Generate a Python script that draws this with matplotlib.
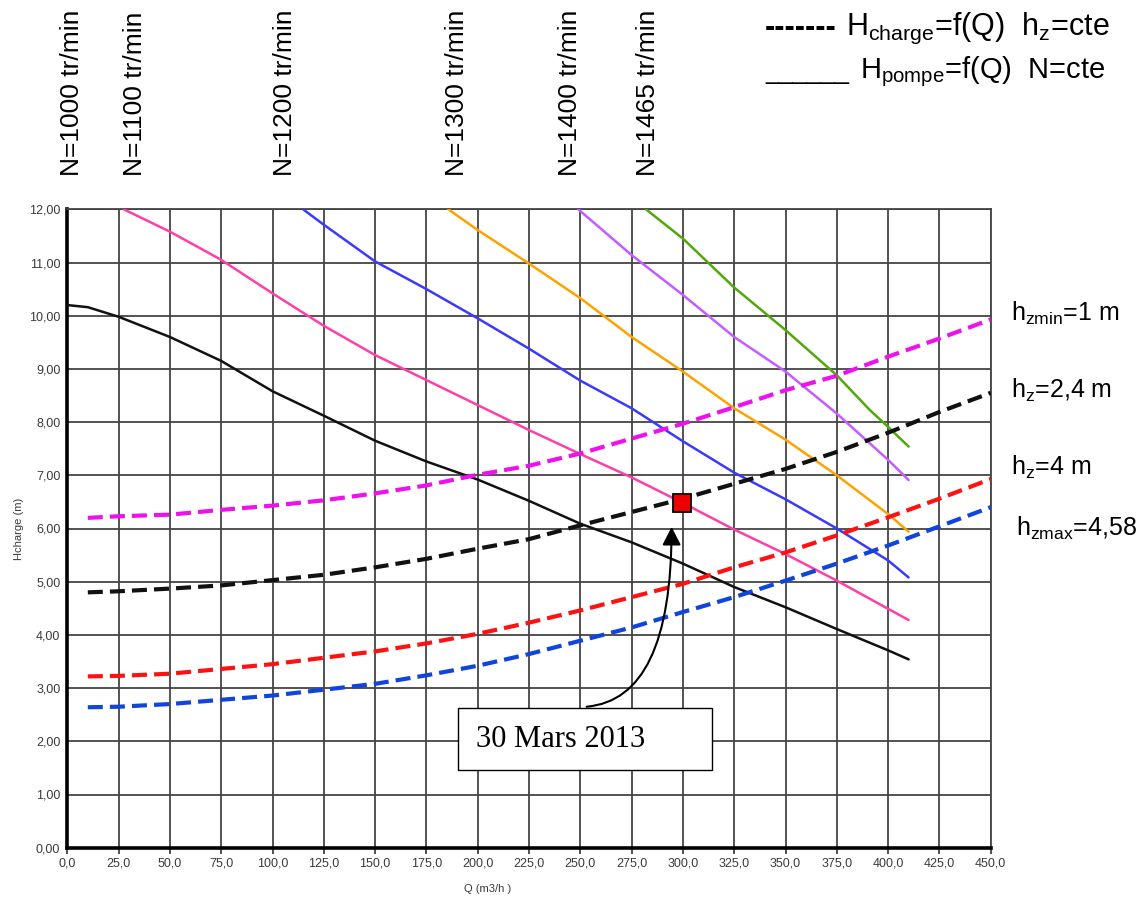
import numpy as np
import matplotlib
matplotlib.use("Agg")
import matplotlib.pyplot as plt
from matplotlib.patches import Rectangle

plt.rcParams['font.family'] = ['Liberation Sans', 'DejaVu Sans']

# pump curves H = f(Q) at constant speed N
pump_labels = ["N=1000 tr/min", "N=1100 tr/min", "N=1200 tr/min",
               "N=1300 tr/min", "N=1400 tr/min", "N=1465 tr/min"]
pump_colors = ["#111111", "#ff3fa8", "#3a3aff", "#ffa200", "#c45cff", "#52a80a"]

q_n1000 = [0, 10, 25, 50, 75, 100, 125, 150, 175, 200, 225, 250, 275, 300, 325, 350, 375, 400, 410]
h_n1000 = [10.20, 10.16, 9.98, 9.60, 9.15, 8.58, 8.12, 7.65, 7.26, 6.92, 6.52, 6.09, 5.74, 5.34, 4.90, 4.52, 4.11, 3.71, 3.54]

q_n1100 = [27.5, 50, 75, 100, 125, 150, 175, 200, 225, 250, 275, 300, 325, 350, 375, 400, 410]
h_n1100 = [12.0, 11.58, 11.05, 10.42, 9.81, 9.26, 8.79, 8.32, 7.85, 7.40, 6.96, 6.48, 5.98, 5.52, 5.02, 4.49, 4.28]

q_n1200 = [114.9, 125, 150, 175, 200, 225, 250, 275, 300, 325, 350, 375, 400, 410]
h_n1200 = [12.0, 11.71, 11.02, 10.50, 9.95, 9.38, 8.78, 8.26, 7.64, 7.05, 6.55, 6.00, 5.40, 5.08]

q_n1300 = [185.7, 200, 225, 250, 275, 300, 325, 350, 375, 400, 410]
h_n1300 = [12.0, 11.61, 10.98, 10.33, 9.60, 8.95, 8.26, 7.67, 7.00, 6.27, 5.94]

q_n1400 = [249, 275, 300, 325, 350, 375, 400, 410]
h_n1400 = [12.0, 11.14, 10.39, 9.60, 8.95, 8.16, 7.29, 6.91]

q_n1465 = [282, 300, 325, 350, 375, 391, 400, 410]
h_n1465 = [12.0, 11.45, 10.53, 9.73, 8.88, 8.23, 7.91, 7.54]

# system curves H = f(Q) at constant hz
q_sys = [10, 25, 50, 75, 100, 125, 150, 175, 200, 225, 250, 275, 300, 325, 350, 375, 400, 425, 450]
h_hzmin = [6.20, 6.23, 6.26, 6.35, 6.43, 6.53, 6.66, 6.81, 7.01, 7.18, 7.41, 7.69, 7.97, 8.28, 8.60, 8.87, 9.23, 9.57, 9.93]
h_hz24 = [4.80, 4.82, 4.87, 4.93, 5.03, 5.13, 5.27, 5.43, 5.62, 5.80, 6.06, 6.31, 6.56, 6.84, 7.12, 7.44, 7.80, 8.19, 8.55]
h_hz4 = [3.22, 3.23, 3.27, 3.36, 3.45, 3.57, 3.69, 3.84, 4.02, 4.23, 4.46, 4.71, 4.96, 5.27, 5.55, 5.87, 6.21, 6.56, 6.93]
h_hzmax = [2.64, 2.65, 2.70, 2.78, 2.86, 2.97, 3.08, 3.24, 3.42, 3.64, 3.89, 4.14, 4.43, 4.71, 5.02, 5.34, 5.68, 6.04, 6.40]
sys_colors = ["#ee11ee", "#111111", "#ff1111", "#1144dd"]
sys_labels = [r"h$_{\mathregular{zmin}}$=1 m", r"h$_{\mathregular{z}}$=2,4 m",
              r"h$_{\mathregular{z}}$=4 m", r"h$_{\mathregular{zmax}}$=4,58"]

# operating point
point_q, point_h = 299.6, 6.48
point_label = "30 Mars 2013"

x_ticks = np.arange(0, 451, 25)
y_ticks = np.arange(0, 13, 1)

W, H = 1144, 898
fig = plt.figure(figsize=(W / 100, H / 100), dpi=100)
ax = fig.add_axes([67.3 / W, 1 - 847.7 / H, 923.4 / W, 638.4 / H])

pumps = [(q_n1000, h_n1000), (q_n1100, h_n1100), (q_n1200, h_n1200),
         (q_n1300, h_n1300), (q_n1400, h_n1400), (q_n1465, h_n1465)]
for (q, h), c in zip(pumps, pump_colors):
    ax.plot(q, h, color=c, lw=1.8, zorder=3, solid_capstyle='round')

for h, c in zip([h_hzmin, h_hz24, h_hz4, h_hzmax], sys_colors):
    ax.plot(q_sys, h, color=c, lw=3, ls=(0, (3.6, 1.7)), zorder=3)

ax.set_xlim(0, 450)
ax.set_ylim(0, 12)
ax.set_xticks(x_ticks)
ax.set_yticks(y_ticks)
ax.set_xticklabels([f"{v:.1f}".replace('.', ',') for v in x_ticks])
ax.set_yticklabels([f"{v:.2f}".replace('.', ',') for v in y_ticks])
ax.tick_params(axis='x', length=4, width=1.2, color='#333333', labelsize=9,
               labelcolor='#3a3a3a', pad=3)
ax.tick_params(axis='y', length=0, labelsize=9, labelcolor='#3a3a3a', pad=5)
ax.grid(True, color='#444444', lw=1.3)
ax.set_axisbelow(True)
for s in ['left', 'bottom']:
    ax.spines[s].set_linewidth(2.6)
    ax.spines[s].set_color('black')
for s in ['top', 'right']:
    ax.spines[s].set_linewidth(1.3)
    ax.spines[s].set_color('#444444')

ax.set_xlabel("Q (m3/h )", fontsize=8, color='#3a3a3a')
ax.xaxis.set_label_coords(0.4556, -0.057)
ax.set_ylabel("Hcharge (m)", fontsize=8, color='#3a3a3a')
ax.yaxis.set_label_coords(-0.047, 0.50)

# annotation box and arrow
ax.add_patch(Rectangle((190.4, 1.46), 314.2 - 190.4, 2.63 - 1.46, facecolor='white',
                       edgecolor='black', lw=1, zorder=5))
ax.text(199.2, 2.03, point_label, fontsize=22, family='Liberation Serif',
        va='center', ha='left', zorder=6)
ax.annotate('', xy=(294.5, 6.03), xytext=(253.1, 2.65),
            arrowprops=dict(arrowstyle='-|>,head_length=0.55,head_width=0.28',
                            color='black', lw=1.5, mutation_scale=20,
                            shrinkA=0, shrinkB=0,
                            connectionstyle='angle3,angleA=5,angleB=90'),
            zorder=6)
ax.plot([point_q], [point_h], marker='s', ms=13, mfc='#ee0000', mec='black',
        mew=1.3, zorder=7)

# speed labels above the chart
label_x = [72, 135, 285, 457, 570, 648]
for lx, txt in zip(label_x, pump_labels):
    fig.text(lx / W, 1 - 176 / H, txt, rotation=90, fontsize=19,
             ha='center', va='bottom')

# legend texts top right
fig.text(765 / W, 1 - 28 / H, "-------", fontsize=22, weight='bold', va='center')
fig.text(846 / W, 1 - 28 / H, r"H$_{\mathregular{charge}}$=f(Q)  h$_{\mathregular{z}}$=cte",
         fontsize=22, va='center')
fig.text(765 / W, 1 - 72 / H, "______", fontsize=18, va='center')
fig.text(860 / W, 1 - 72 / H, r"H$_{\mathregular{pompe}}$=f(Q)  N=cte",
         fontsize=21, va='center')

# hz labels on the right
side_pos = [(1011, 313), (1011, 390), (1011, 467), (1016, 528)]
for (sx, sy), txt in zip(side_pos, sys_labels):
    fig.text(sx / W, 1 - sy / H, txt, fontsize=18, va='center')

fig.savefig("out.png", dpi=100)
